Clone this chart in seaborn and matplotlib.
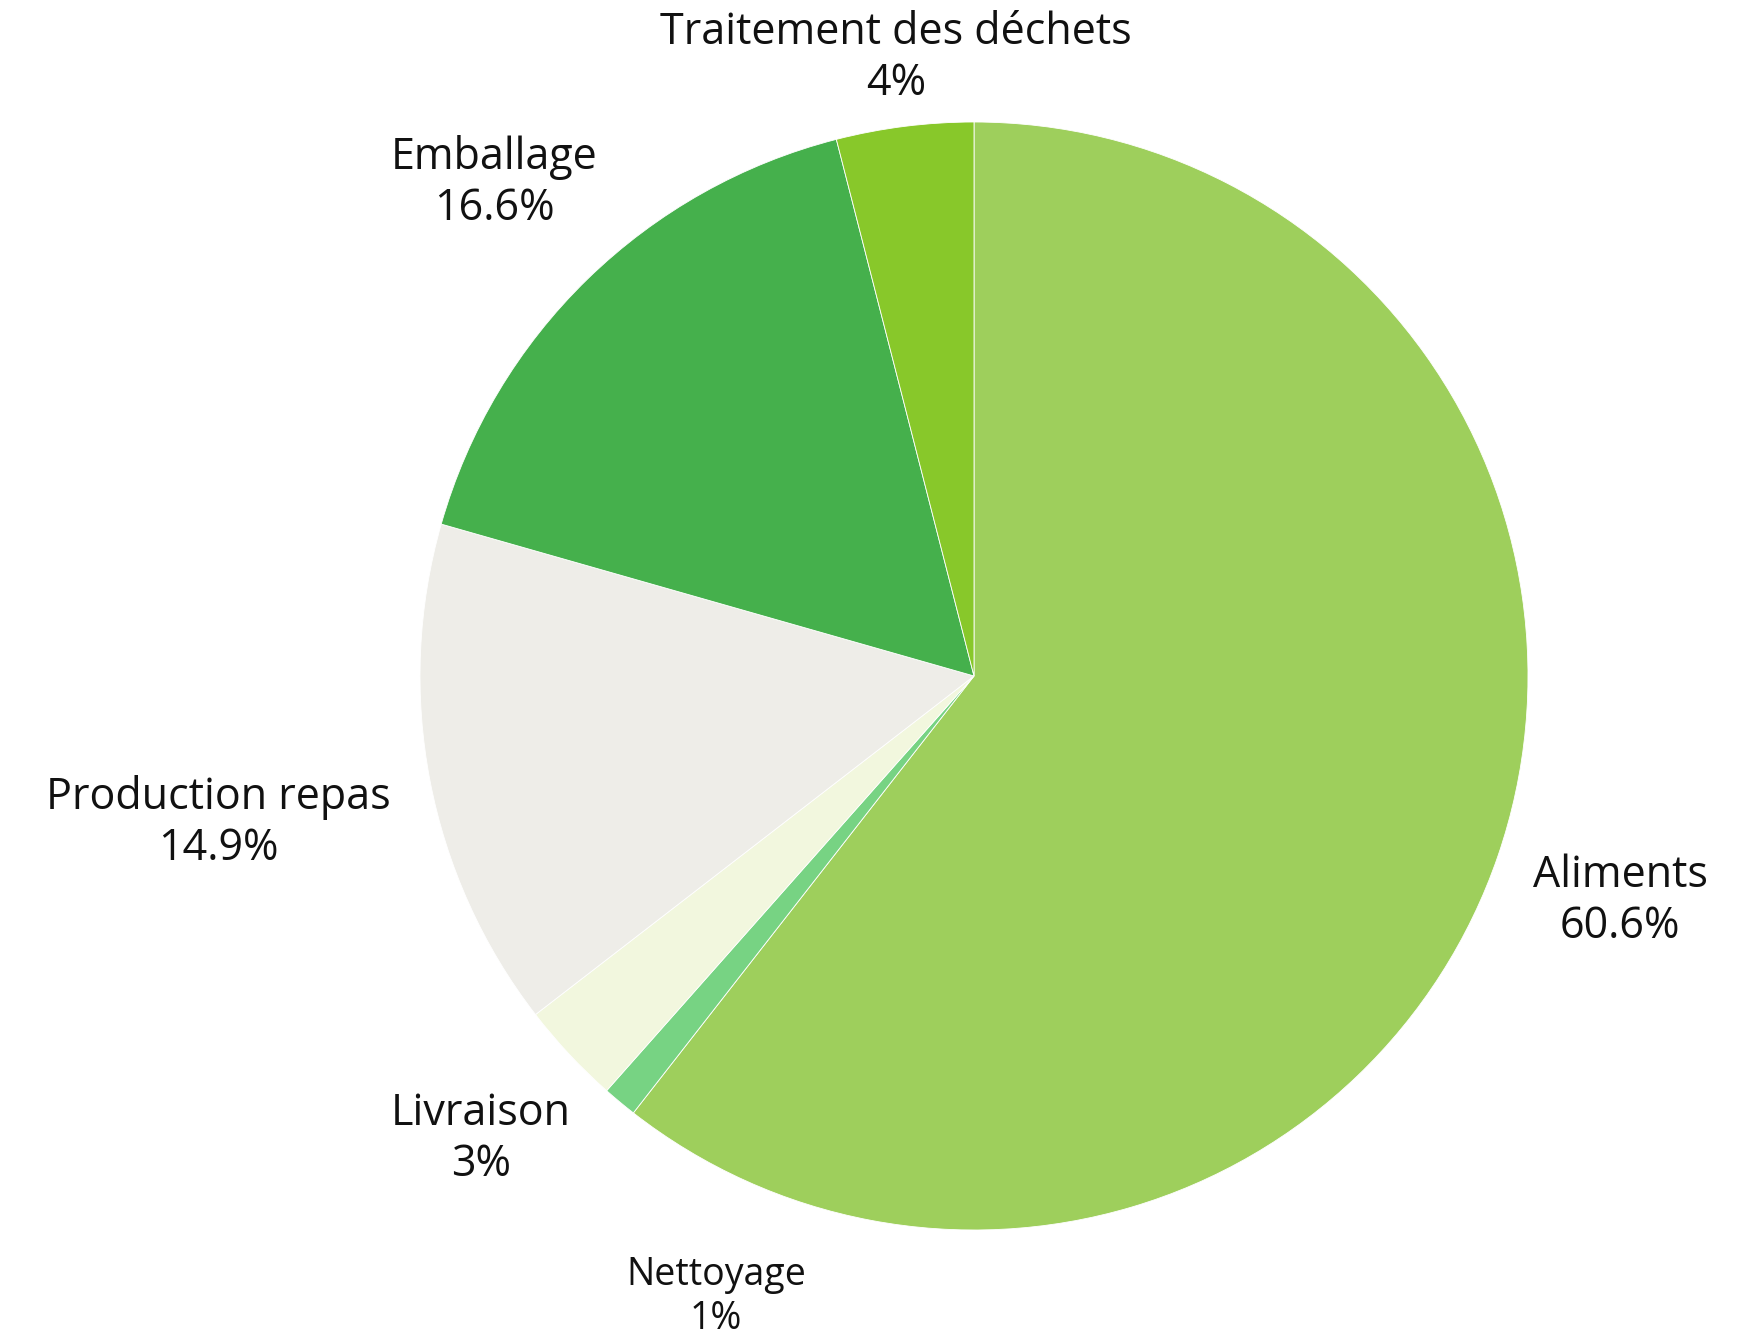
import matplotlib
matplotlib.use("Agg")
import matplotlib.pyplot as plt
import seaborn as sns

# Data
categories = ["Aliments", "Nettoyage", "Livraison", "Production repas", "Emballage", "Traitement des déchets"]
shares = [60.6, 1, 3, 14.9, 16.6, 4]
share_labels = ["60.6%", "1%", "3%", "14.9%", "16.6%", "4%"]
colors = ["#9ecf5c", "#77d383", "#f2f7de", "#eeede8", "#45b04c", "#88c82a"]

# Label centres in pixels (x, y of the two-line block), from top-left
label_px = [(1620, 901), (716, 1297), (481, 1139), (218, 823), (494, 183), (896, 58)]

# Layout (pixels)
W, H = 1759, 1338
cx, cy, r = 974, 676, 554

sns.set_style("white")
plt.rcParams["font.family"] = ["Open Sans", "DejaVu Sans"]

fig = plt.figure(figsize=(W / 100, H / 100), dpi=100)
ax = fig.add_axes([0, 0, 1, 1])
ax.pie(shares, colors=colors, startangle=90, counterclock=False, radius=1,
       wedgeprops=dict(edgecolor="white", linewidth=0.6))
ax.set_xlim(-cx / r, (W - cx) / r)
ax.set_ylim(-(H - cy) / r, cy / r)
ax.set_aspect("auto")
ax.axis("off")

for name, pct, (px, py) in zip(categories, share_labels, label_px):
    x = (px - cx) / r
    y = (cy - py) / r
    fs = 27 if name == "Nettoyage" else 31
    ax.text(x, y, name + "\n" + pct, ha="center", va="center", fontsize=fs,
            color="#111111", linespacing=1.18)

fig.savefig("out.png", dpi=100, facecolor="white")
